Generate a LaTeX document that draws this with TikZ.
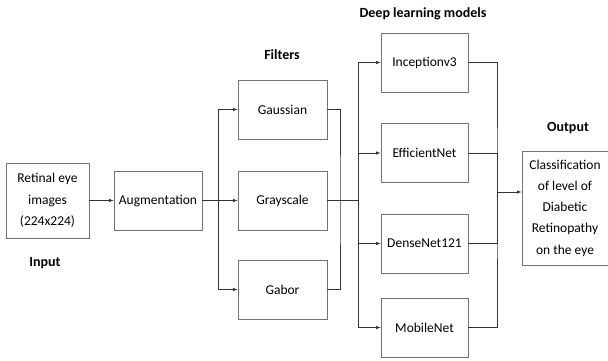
\documentclass[tikz,border=0pt]{standalone}
\usepackage{fontspec}
\setmainfont{Carlito}
\usetikzlibrary{calc}
\usetikzlibrary{positioning}
\tikzset{
  block/.style={draw=black!55, thick, align=center, inner sep=2pt, font=\fontsize{13.5}{21.3}\selectfont},
  title/.style={font=\bfseries\fontsize{14}{16}\selectfont},
  link/.style={draw=black!80, semithick},
  every picture/.style={>={latex}}
}

\begin{document}
\begin{tikzpicture}[x=1pt, y=-1pt]
  \useasboundingbox (0,0) rectangle (608,361);

  \node [block, minimum width=83pt, minimum height=75pt] (retina) at (47.5,200.5) {Retinal eye\\images\\(224x224)};
  \node [block, minimum width=88pt, minimum height=59pt] (aug) at (158,200.5) {Augmentation};

  \node [block, minimum width=89pt, minimum height=59pt] (gauss) at (282.5,109.5) {Gaussian};
  \node [block, minimum width=89pt, minimum height=59pt] (gray) at (282.5,200.5) {Grayscale};
  \node [block, minimum width=89pt, minimum height=59pt] (gabor) at (282.5,289.5) {Gabor};

  \node [block, minimum width=87pt, minimum height=59pt] (incep) at (424.5,62.5) {Inceptionv3};
  \node [block, minimum width=87pt, minimum height=59pt] (effnet) at (424.5,153) {EfficientNet};
  \node [block, minimum width=87pt, minimum height=59pt] (dense) at (424.5,243.5) {DenseNet121};
  \node [block, minimum width=87pt, minimum height=59pt] (mobile) at (424.5,327.5) {MobileNet};

  \node [block, minimum width=86pt, minimum height=114pt] (out) at (565,208) {Classification\\of level of\\Diabetic\\Retinopathy\\on the eye};

  \node [title] (inlabel) at (45,263) {Input};
  \node [title] (filtlabel) at (282,55) {Filters};
  \node [title] (dllabel) at (423,14) {Deep learning models};
  \node [title] (outlabel) at (568,128) {Output};

  \coordinate (fork1) at (218,200.5);
  \coordinate (merge1) at (340,200.5);
  \coordinate (fork2) at (358,200.5);
  \coordinate (merge2) at (497,192);

  \draw [link, ->] (retina) -- (aug);
  \draw [link] (aug) -- (fork1);
  \draw [link, ->] (fork1) |- (gauss);
  \draw [link, ->] (fork1) -- (gray);
  \draw [link, ->] (fork1) |- (gabor);

  \draw [link] (gauss.east) -| (merge1) |- (gabor.east);
  \draw [link] (gray.east) -- (fork2);
  \draw [link, ->] (fork2) |- (incep);
  \draw [link, ->] (fork2) |- (effnet);
  \draw [link, ->] (fork2) |- (dense);
  \draw [link, ->] (fork2) |- (mobile);

  \draw [link] (incep.east) -| (merge2) |- (mobile.east);
  \draw [link] (effnet.east) -| (merge2);
  \draw [link] (dense.east) -| (merge2);
  \draw [link, ->] (merge2) -- (merge2 -| out.west);
\end{tikzpicture}
\end{document}
